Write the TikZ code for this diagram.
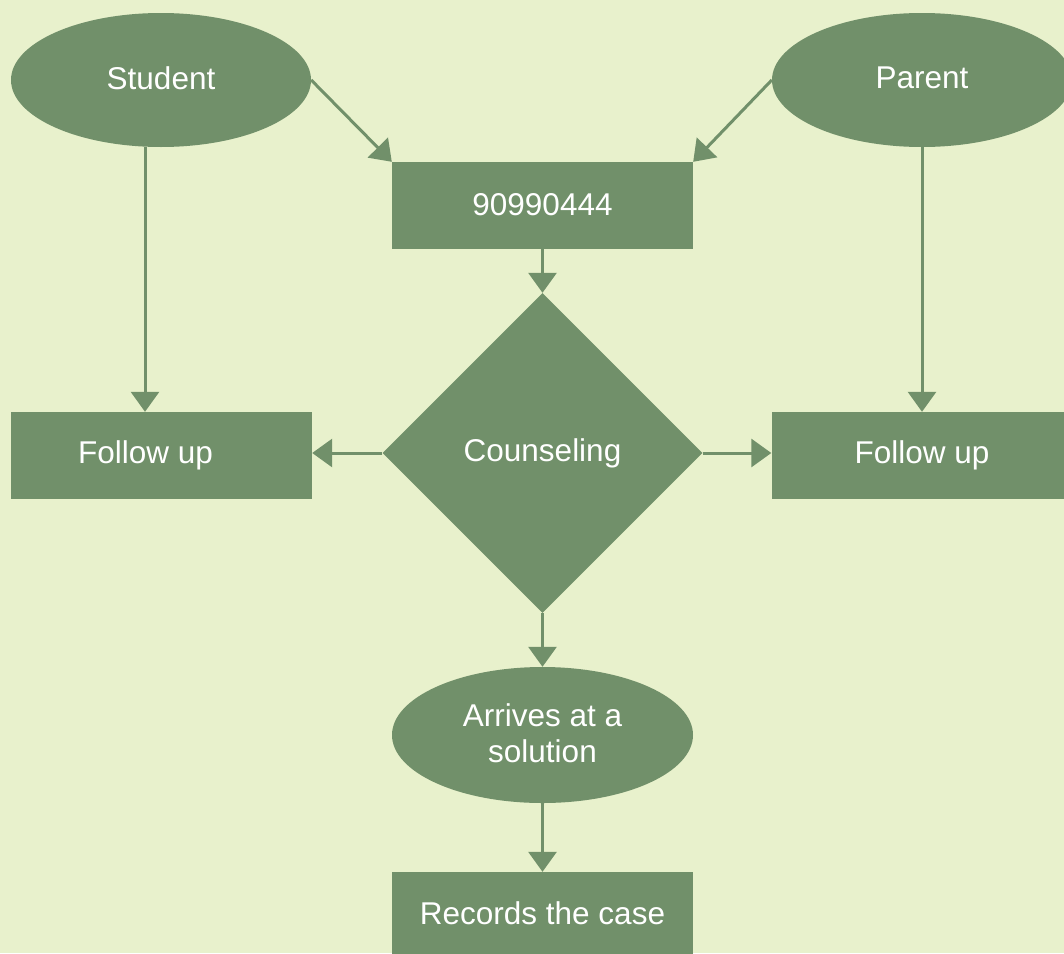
\documentclass[tikz,border=0pt]{standalone}
\usepackage{fontspec}
\setmainfont{Liberation Sans}
\usetikzlibrary{shapes.geometric,arrows.meta}
\definecolor{bgc}{HTML}{E8F1CC}
\definecolor{gc}{HTML}{71906A}
\begin{document}
\begin{tikzpicture}[x=1pt,y=-1pt,
  every node/.style={text=white,font=\fontsize{31.5}{37}\selectfont,inner sep=0pt},
  oval/.style={ellipse,fill=gc,minimum width=300,minimum height=134},
  boxnode/.style={rectangle,fill=gc,minimum width=301,minimum height=87},
  dia/.style={diamond,fill=gc,minimum width=320,minimum height=320,aspect=1},
  conn/.style={draw=gc,line width=3pt,-{Triangle[length=20pt,width=28pt]}}]
\fill[bgc] (0,0) rectangle (1064,953);
\useasboundingbox (0,0) rectangle (1064,953);
\node[oval] (stu) at (161,80) {\raisebox{4pt}{Student}};
\node[oval] (par) at (922,80) {\raisebox{4pt}{Parent}};
\node[boxnode] (num) at (542.5,205.5) {\raisebox{3pt}{90990444}};
\node[dia] (cou) at (542.5,453) {\raisebox{4pt}{Counseling}};
\node[boxnode] (fl) at (161.5,455.5) {\hspace*{-32pt}\raisebox{3pt}{Follow up}};
\node[boxnode] (fr) at (922,455.5) {\raisebox{3pt}{Follow up}};
\node[oval,minimum width=301,minimum height=136,align=center,font=\fontsize{31.5}{36}\selectfont] (arr) at (542.5,735) {\raisebox{4pt}{Arrives at a}\\\raisebox{4pt}{solution}};
\node[boxnode] (rec) at (542.5,915.5) {\raisebox{5pt}{Records the case}};
\coordinate (sa) at (145,147);
\draw[conn] (stu.east) -- (num.north west);
\draw[conn] (par.west) -- (num.north east);
\draw[conn] (sa) -- (sa |- fl.north);
\draw[conn] (par.south) -- (fr.north);
\draw[conn] (num.south) -- (cou.north);
\draw[conn] (cou.west) -- (cou.west -| fl.east);
\draw[conn] (cou.east) -- (cou.east -| fr.west);
\draw[conn] (cou.south) -- (arr.north);
\draw[conn] (arr.south) -- (rec.north);
\end{tikzpicture}
\end{document}
